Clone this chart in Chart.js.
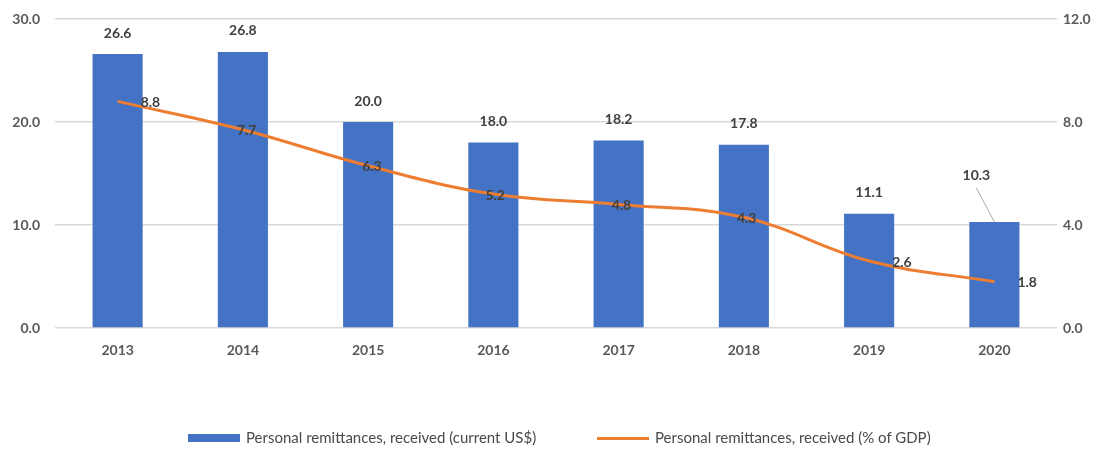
<!DOCTYPE html>
<html>
<head>
<meta charset="utf-8">
<script src="https://cdn.jsdelivr.net/npm/chart.js@4"></script>
<style>
  html, body { margin:0; padding:0; background:#fff; }
  #wrap { position:relative; width:1106px; height:450px; }
  #legend { position:absolute; left:0; top:427px; width:1106px; height:20px;
    font: 15px Lato, "Open Sans", sans-serif; color:#4a4a4a; }
  .item { position:absolute; top:0; line-height:20px; white-space:nowrap; }
  .sw { display:inline-block; vertical-align:middle; margin-right:6px; position:relative; top:-1px; }
</style>
</head>
<body>
<div id="wrap">
  <canvas id="c" width="1106" height="450"></canvas>
  <div id="legend">
    <div class="item" style="left:188px"><span class="sw" style="width:52px;height:8px;background:#4472C4"></span>Personal remittances, received (current US$)</div>
    <div class="item" style="left:597px"><span class="sw" style="width:52px;height:3px;background:#ED7D31"></span>Personal remittances, received (% of GDP)</div>
  </div>
</div>
<script>
const years = ['2013','2014','2015','2016','2017','2018','2019','2020'];
const remitUsd = [26.6, 26.8, 20.0, 18.0, 18.2, 17.8, 11.1, 10.3];   // current US$ (bn)
const remitGdp = [8.8, 7.7, 6.3, 5.2, 4.8, 4.3, 2.6, 1.8];          // % of GDP
const leftTicks = [0, 10, 20, 30];
const rightTicks = [0, 4, 8, 12];

const FONT = 'Lato, "Open Sans", sans-serif';

// value labels, drawn by hand since only core Chart.js is available
const valueLabels = {
  id: 'valueLabels',
  afterDatasetsDraw(chart, args, opts){
    const ctx = chart.ctx;
    ctx.save();
    ctx.font = 'bold 14px ' + FONT;
    ctx.fillStyle = '#404040';
    ctx.textBaseline = 'middle';

    // bars
    chart.getDatasetMeta(0).data.forEach((bar, i) => {
      const s = (opts.barShift || {})[i];
      let x = bar.x, y = bar.y - 21;
      if (s){
        x += s.dx; y += s.dy;
        ctx.strokeStyle = '#a6a6a6';
        ctx.lineWidth = 1;
        ctx.beginPath();
        ctx.moveTo(x, y + 12);
        ctx.lineTo(bar.x, bar.y);
        ctx.stroke();
      }
      ctx.textAlign = 'center';
      ctx.fillText(remitUsd[i].toFixed(1), x, y);
    });

    // line points
    chart.getDatasetMeta(1).data.forEach((pt, i) => {
      const dx = (opts.lineDx || [])[i] || 0;
      ctx.textAlign = 'left';
      ctx.fillText(remitGdp[i].toFixed(1), pt.x + dx, pt.y + 1);
    });
    ctx.restore();
  }
};

const tickFont = { family: FONT, size: 14, weight: 'bold' };

new Chart(document.getElementById('c'), {
  type: 'bar',
  data: {
    labels: years,
    datasets: [
      {
        label: 'Personal remittances, received (current US$)',
        data: remitUsd,
        backgroundColor: '#4472C4',
        categoryPercentage: 1,
        barPercentage: 0.4,
        yAxisID: 'y',
        order: 2
      },
      {
        type: 'line',
        label: 'Personal remittances, received (% of GDP)',
        data: remitGdp,
        borderColor: '#ED7D31',
        borderWidth: 3,
        pointRadius: 0,
        tension: 0.4,
        fill: false,
        yAxisID: 'y1',
        order: 1
      }
    ]
  },
  options: {
    responsive: false,
    animation: false,
    layout: { padding: { top: 0, bottom: 0, left: 0, right: 0 } },
    plugins: {
      legend: { display: false },
      tooltip: { enabled: false },
      valueLabels: {
        lineDx: [23, -6, -6, -8, -7, -7, 23, 23],
        barShift: { 7: { dx: -18, dy: -25 } }
      }
    },
    scales: {
      x: {
        grid: { display: false, drawTicks: false },
        border: { display: false },
        ticks: { font: tickFont, color: '#595959', padding: 14 },
        afterFit(s){ s.height = 122; }
      },
      y: {
        position: 'left',
        min: 0, max: 30,
        afterBuildTicks(s){ s.ticks = leftTicks.map(v => ({ value: v })); },
        grid: { color: '#d9d9d9', lineWidth: 1.5, drawTicks: false },
        border: { display: false },
        ticks: { font: tickFont, color: '#595959', padding: 15, callback: v => v.toFixed(1) },
        afterFit(s){ s.width = 55; s.paddingTop = 19; }
      },
      y1: {
        position: 'right',
        min: 0, max: 12,
        afterBuildTicks(s){ s.ticks = rightTicks.map(v => ({ value: v })); },
        grid: { display: false, drawTicks: false },
        border: { display: false },
        ticks: { font: tickFont, color: '#595959', padding: 6, callback: v => v.toFixed(1) },
        afterFit(s){ s.width = 49; s.paddingTop = 19; }
      }
    }
  },
  plugins: [valueLabels]
});
</script>
</body>
</html>
